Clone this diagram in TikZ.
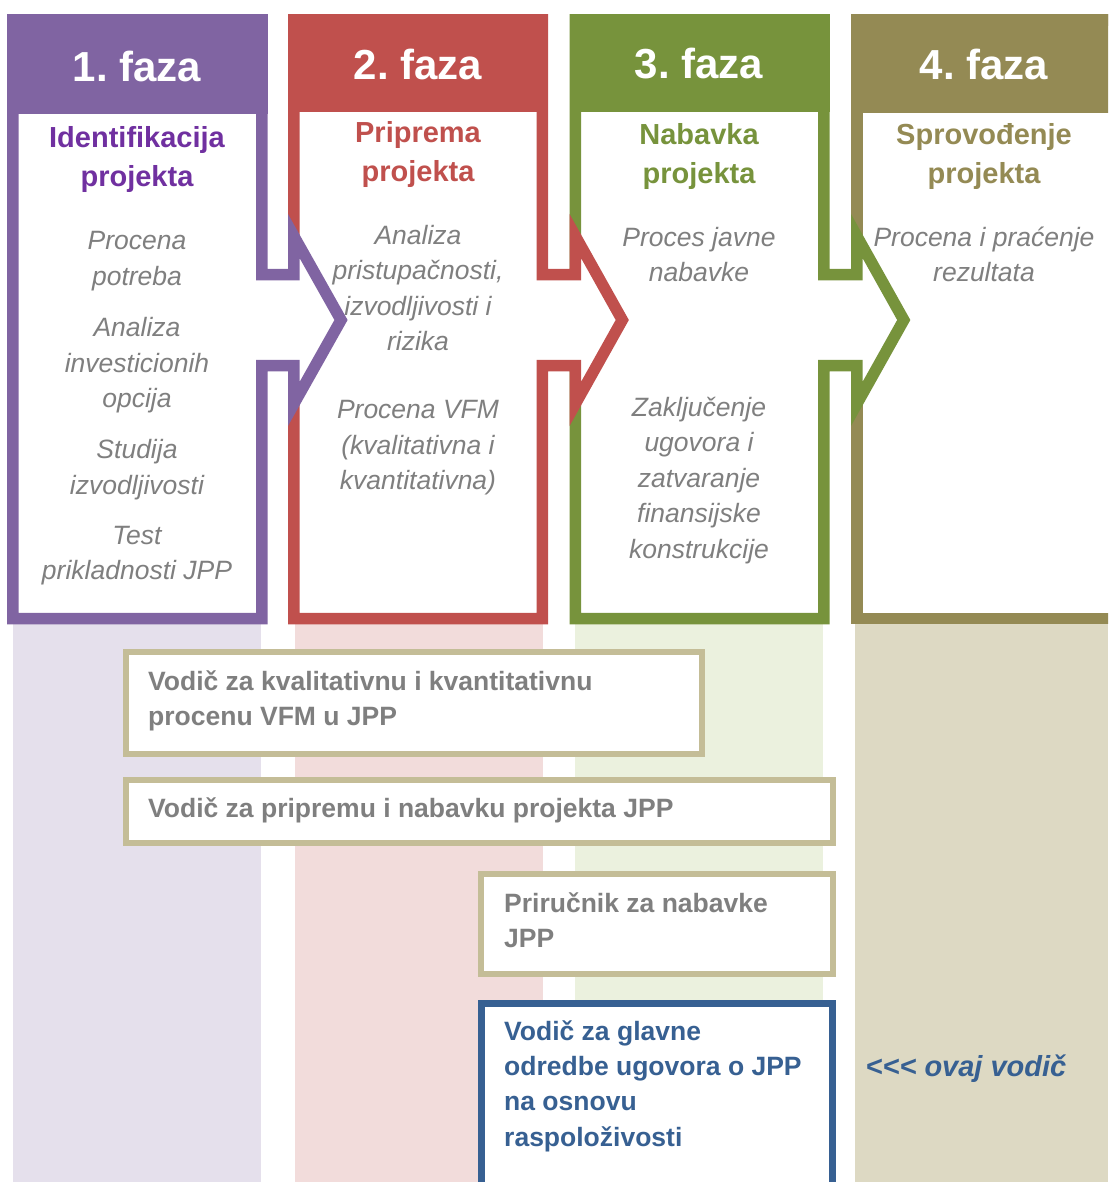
\documentclass[tikz,border=0pt]{standalone}
\usepackage{fontspec}
\setmainfont{Liberation Sans}
\frenchspacing
\definecolor{cPurple}{HTML}{8064A2}
\definecolor{cRed}{HTML}{C0504D}
\definecolor{cGreen}{HTML}{77933C}
\definecolor{cTan}{HTML}{948A54}
\definecolor{tPurple}{HTML}{7030A0}
\definecolor{pPurple}{HTML}{E5E0EC}
\definecolor{pRed}{HTML}{F2DCDB}
\definecolor{pGreen}{HTML}{EBF1DE}
\definecolor{pTan}{HTML}{DDD9C3}
\definecolor{cGray}{HTML}{7F7F7F}
\definecolor{cBox}{HTML}{C4BD97}
\definecolor{cBlue}{HTML}{376092}
\tikzset{
  phaseshape/.style={fill=white, draw=#1, line width=11.5pt, miter limit=20, line join=miter},
  header/.style={text=white, font=\fontsize{42}{50}\selectfont\bfseries},
  ttl/.style={text=#1, align=center, inner sep=0pt, font=\fontsize{29}{39}\selectfont\bfseries},
  act/.style={text=cGray, align=center, inner sep=0pt, font=\fontsize{26.5}{35.5}\selectfont\itshape},
  guidebox/.style={fill=white, draw=cBox, line width=6pt},
  guidetext/.style={text=cGray, align=left, anchor=west, inner sep=0pt, font=\fontsize{26.5}{35.3}\selectfont\bfseries},
  bluebox/.style={fill=white, draw=cBlue, line width=7pt},
  bluetext/.style={text=cBlue, align=left, anchor=west, inner sep=0pt, font=\fontsize{26.5}{35.3}\selectfont\bfseries}
}
\begin{document}
\begin{tikzpicture}[x=1pt, y=-1pt]
\useasboundingbox (0,0) rectangle (1108,1182);
\clip (0,0) rectangle (1108,1182);
% pale columns
\fill[pPurple] (13,624) rectangle (261,1182);
\fill[pRed] (295,624) rectangle (543,1182);
\fill[pGreen] (575,624) rectangle (823,1182);
\fill[pTan] (855,624) rectangle (1108,1182);
% phase 4
\draw[phaseshape=cTan] (856.75,20) -- (1125,20) -- (1125,618.5) -- (856.75,618.5) -- cycle;
\fill[cTan] (851,14) rectangle (1130,113);
% phase 3
\draw[phaseshape=cGreen] (575.25,20) -- (823.75,20) -- (823.75,274.5) -- (856.75,274.5) -- (856.75,236) -- (903.75,320) -- (856.75,404) -- (856.75,365.5) -- (823.75,365.5) -- (823.75,618.5) -- (575.25,618.5) -- cycle;
\fill[cGreen] (569.5,14) rectangle (829.5,112);
% phase 2
\draw[phaseshape=cRed] (293.75,20) -- (542.25,20) -- (542.25,274.5) -- (575.25,274.5) -- (575.25,236) -- (622.25,320) -- (575.25,404) -- (575.25,365.5) -- (542.25,365.5) -- (542.25,618.5) -- (293.75,618.5) -- cycle;
\fill[cRed] (288,14) rectangle (548,112);
% phase 1
\draw[phaseshape=cPurple] (12.75,20) -- (261.75,20) -- (261.75,274.5) -- (293.75,274.5) -- (293.75,236) -- (341,320) -- (293.75,404) -- (293.75,365.5) -- (261.75,365.5) -- (261.75,618.5) -- (12.75,618.5) -- cycle;
\fill[cPurple] (7,14) rectangle (267.5,114);
% headers
\node[header] (h1) at (137,66) {1. faza};
\node[header] (h2) at (418,64) {2. faza};
\node[header] (h3) at (699,64) {3. faza};
\node[header] (h4) at (984,64) {4. faza};
% titles
\node[ttl=tPurple] (t1) at (137,159.5) {Identifikacija\\projekta};
\node[ttl=cRed] (t2) at (418,155) {Priprema\\projekta};
\node[ttl=cGreen] (t3) at (699,156.5) {Nabavka\\projekta};
\node[ttl=cTan] (t4) at (984,156.5) {Sprovođenje\\projekta};
% activities
\node[act] (a11) at (137,261) {Procena\\potreba};
\node[act] (a12) at (137,365.5) {Analiza\\investicionih\\opcija};
\node[act] (a13) at (137,469.5) {Studija\\izvodljivosti};
\node[act] (a14) at (137,555.5) {Test\\prikladnosti JPP};
\node[act] (a21) at (418,288) {Analiza\\pristupačnosti,\\izvodljivosti i\\rizika};
\node[act] (a22) at (418,448) {Procena VFM\\(kvalitativna i\\kvantitativna)};
\node[act] (a31) at (699,254.5) {Proces javne\\nabavke};
\node[act] (a32) at (699,480.5) {Zaključenje\\ugovora i\\zatvaranje\\finansijske\\konstrukcije};
\node[act] (a41) at (984,254.5) {Procena i praćenje\\rezultata};
% guide boxes
\draw[guidebox] (126,652) rectangle (702,754);
\node[guidetext] (g1) at (148,700.5) {Vodič za kvalitativnu i kvantitativnu\\procenu VFM u JPP};
\draw[guidebox] (126,780) rectangle (833,843);
\node[guidetext] (g2) at (148,810) {Vodič za pripremu i nabavku projekta JPP};
\draw[guidebox] (481,874) rectangle (833,974);
\node[guidetext] (g3) at (504,920) {Priručnik za nabavke\\JPP};
\draw[bluebox] (481.5,1003.5) rectangle (832.5,1195);
\node[bluetext] (g4) at (504,1086) {Vodič za glavne\\odredbe ugovora o JPP\\na osnovu\\raspoloživosti};
\node[text=cBlue, inner sep=0pt, font=\fontsize{29}{33}\selectfont\bfseries\itshape] (ov) at (966,1069) {{<}{<}{<} ovaj vodič};
\end{tikzpicture}
\end{document}
